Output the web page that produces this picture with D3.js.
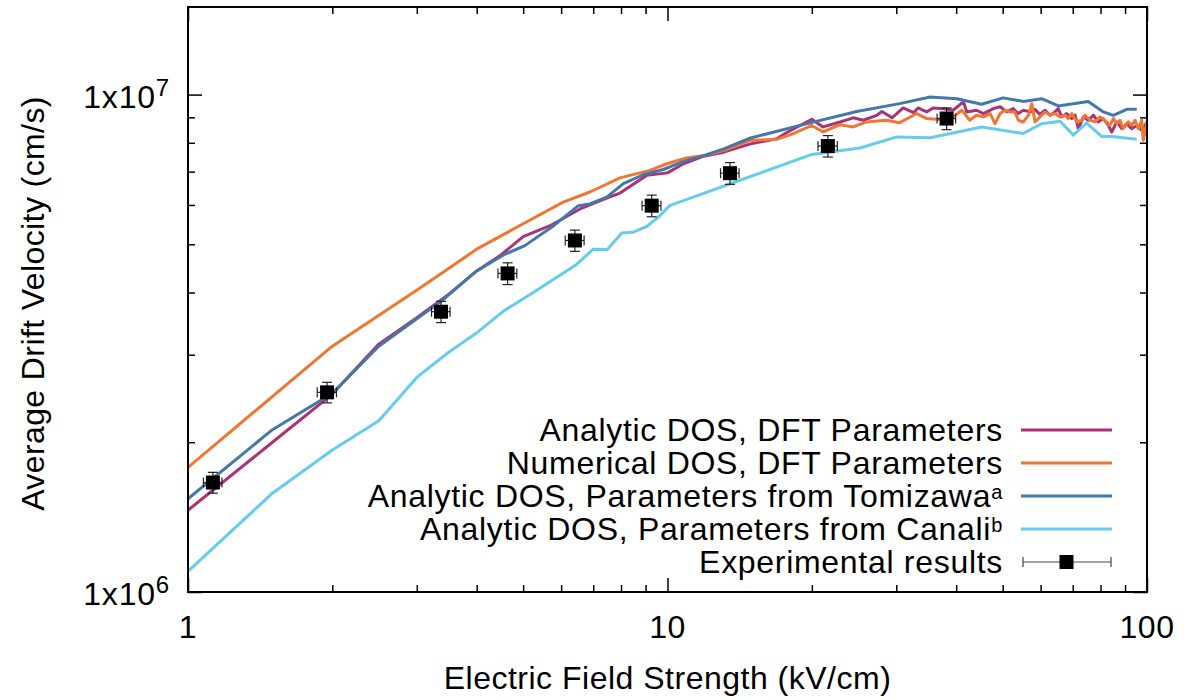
<!DOCTYPE html>
<html><head><meta charset="utf-8">
<script src="https://cdn.jsdelivr.net/npm/d3@7"></script>
<style>
html,body{margin:0;padding:0;background:#fff;}
svg{display:block;font-family:"Liberation Sans",Arial,Helvetica,sans-serif;}
</style></head><body>
<svg id="chart" width="1191" height="700"></svg>
<script>
// Average electron drift velocity vs. electric field.
// Each curve: [field (kV/cm), velocity (10^6 cm/s)]
const analyticDFT = [[1,1.46],[1.5,2.0],[2,2.5],[2.5,3.15],[3,3.56],[3.5,3.97],[4,4.42],[4.47,4.74],[5.0,5.18],[5.69,5.45],[6.57,5.89],[7.47,6.19],[7.96,6.34],[9.05,6.88],[10.0,6.96],[10.8,7.26],[11.9,7.52],[13.1,7.66],[14.9,7.96],[16.9,8.15],[17.7,8.38],[20.0,8.92],[21.1,8.61],[22.9,8.81],[24.4,8.98],[25.6,8.88],[27.3,9.08],[28.0,9.25],[29.4,8.98],[31.0,9.40],[32.6,9.20],[33.3,9.40],[34.7,9.23],[35.8,9.40],[37.6,9.37],[39.4,9.30],[41.4,9.67],[42.1,9.23],[44.1,9.30],[45.6,9.16],[47.8,9.37],[49.4,9.45],[51.0,9.23],[52.6,9.37],[53.9,9.16],[55.2,9.30],[57.0,9.23],[58.4,9.34],[59.8,9.12],[61.3,9.30],[62.8,9.09],[64.3,9.23],[65.3,9.37],[66.4,9.02],[68.0,9.16],[69.7,8.95],[70.8,9.09],[71.9,8.54],[73.7,9.02],[75.4,8.88],[77.3,9.09],[79.1,8.81],[81.1,8.95],[83.1,8.67],[84.4,8.41],[86.5,8.81],[88.6,8.54],[90.7,8.74],[92.9,8.54],[95.2,8.67],[97.5,8.47],[100,8.81]];

const numericalDFT = [[1,1.78],[2,3.12],[3.02,4.06],[3.52,4.49],[4.0,4.89],[5.0,5.50],[6.06,6.08],[6.89,6.37],[7.96,6.80],[9.19,7.04],[9.96,7.26],[10.96,7.46],[11.9,7.54],[13.1,7.72],[14.9,8.09],[16.9,8.13],[18.3,8.35],[20.0,8.67],[21.1,8.41],[22.9,8.70],[24.4,8.61],[26.0,8.81],[28.6,8.88],[30.5,8.78],[33.1,9.16],[34.7,8.95],[37.0,8.91],[39.4,9.02],[41.1,9.30],[42.7,8.88],[44.1,9.09],[45.6,9.02],[47.1,9.16],[48.2,8.74],[49.4,9.16],[50.6,9.30],[51.8,9.23],[53.0,9.23],[53.9,8.88],[55.2,8.81],[56.6,9.09],[57.5,9.59],[58.4,8.81],[59.8,9.02],[61.3,9.23],[62.8,9.09],[64.3,9.16],[65.9,9.02],[67.5,9.09],[68.5,8.95],[69.7,9.16],[71.4,8.81],[73.1,8.88],[74.3,9.09],[76.1,8.88],[77.9,8.81],[79.8,9.02],[81.7,8.88],[83.7,8.67],[85.1,8.95],[86.5,8.74],[87.8,8.88],[89.2,8.54],[91.4,8.81],[92.9,8.67],[94.4,8.88],[95.9,8.54],[97.5,8.88],[98.2,8.09],[100,8.81]];

const tomizawa = [[1,1.54],[1.5,2.12],[2,2.51],[2.5,3.12],[3.02,3.56],[3.38,3.85],[4.0,4.42],[4.55,4.76],[5.04,4.97],[5.73,5.41],[6.52,5.98],[6.89,6.03],[7.47,6.22],[8.09,6.62],[8.9,6.90],[9.8,7.07],[10.8,7.34],[11.9,7.54],[13.1,7.78],[14.9,8.18],[18.9,8.67],[24.8,9.25],[30.5,9.59],[35.3,9.89],[40.1,9.81],[45.2,9.56],[50.1,9.85],[55.2,9.69],[60.3,9.81],[65.3,9.49],[75.4,9.69],[81.1,9.23],[85.1,9.08],[90.7,9.34],[95.2,9.34]];

const canali = [[1,1.10],[1.5,1.58],[2.0,1.93],[2.5,2.21],[3.0,2.70],[3.49,3.03],[3.97,3.30],[4.55,3.67],[5.25,4.00],[6.47,4.56],[7.0,4.89],[7.49,4.88],[8.03,5.27],[8.49,5.29],[9.05,5.43],[9.57,5.67],[10.1,5.98],[20.0,7.58],[25.2,7.81],[30.1,8.22],[35.3,8.19],[45.2,8.61],[55.2,8.35],[60.3,8.74],[65.9,8.84],[70.2,8.29],[74.8,8.77],[80.4,8.24],[84.4,8.24],[95.2,8.13]];

// Experimental results with symmetric error bars
const expField    = [1.127, 1.95, 3.37, 4.64, 6.41, 9.27, 13.5, 21.6, 38.2];
const expFieldErr = [0.05, 0.09, 0.15, 0.21, 0.29, 0.42, 0.6, 1.0, 1.7];
const expVel      = [1.66, 2.52, 3.66, 4.37, 5.09, 5.98, 6.95, 7.88, 8.95];
const expVelErr   = [0.08, 0.12, 0.18, 0.22, 0.25, 0.30, 0.35, 0.39, 0.45];

const curveLabels = ["Analytic DOS, DFT Parameters", "Numerical DOS, DFT Parameters", "Analytic DOS, Parameters from Tomizawa", "Analytic DOS, Parameters from Canali"];
const curveSup    = ["", "", "a", "b"];
const curveColors = ["#AA3377", "#EE7733", "#4477AA", "#66CCEE"];
const expLabel = "Experimental results";

const xMajor = [1, 10, 100];
const xMinor = [2,3,4,5,6,7,8,9,20,30,40,50,60,70,80,90];
const yMajor = [1, 10];
const yMajorExp = ["6", "7"];
const yMinor = [2,3,4,5,6,7,8,9];

const xTitle = "Electric Field Strength (kV/cm)";
const yTitle = "Average Drift Velocity (cm/s)";

const L = 188, R = 1147, T = 7, B = 592;
const FS = 32, SUP = 20;

const svg = d3.select("#chart");
const x = d3.scaleLog().domain([1, 100]).range([L, R]);
const y = d3.scaleLog().domain([1, 15]).range([B, T]);

// Ticks on all four sides, pointing inward
function tickAxis(axisFn, scale, vals, size, tx, ty) {
  const g = svg.append("g").attr("transform", `translate(${tx},${ty})`)
    .call(axisFn(scale).tickValues(vals).tickSizeInner(size).tickSizeOuter(0).tickFormat(""));
  g.select(".domain").remove();
  g.selectAll(".tick line").attr("stroke", "#000").attr("stroke-width", 1.5);
  return g;
}
tickAxis(d3.axisBottom, x, xMajor, -14, 0, B);
tickAxis(d3.axisBottom, x, xMinor, -7, 0, B);
tickAxis(d3.axisTop, x, xMajor, -14, 0, T);
tickAxis(d3.axisTop, x, xMinor, -7, 0, T);
tickAxis(d3.axisLeft, y, yMajor, -14, L, 0);
tickAxis(d3.axisLeft, y, yMinor, -7, L, 0);
tickAxis(d3.axisRight, y, yMajor, -14, R, 0);
tickAxis(d3.axisRight, y, yMinor, -7, R, 0);

// Tick labels
svg.append("g").selectAll("text").data(xMajor).join("text")
  .attr("x", d => x(d)).attr("y", B + 46)
  .attr("text-anchor", "middle").attr("font-size", FS).attr("letter-spacing", 0.5).text(d => d);

const yl = svg.append("g").selectAll("text").data(yMajor).join("text")
  .attr("x", 170).attr("y", d => y(d) + 13)
  .attr("text-anchor", "end").attr("font-size", FS).attr("letter-spacing", 0.8);
yl.append("tspan").text("1x10");
yl.append("tspan").attr("font-size", 24).attr("dy", -12).text((d, i) => yMajorExp[i]);

// Axis titles
svg.append("text").attr("x", (L + R) / 2).attr("y", 689)
  .attr("text-anchor", "middle").attr("font-size", FS).attr("letter-spacing", 0.5).text(xTitle);
svg.append("text").attr("transform", `translate(44,${(T + B) / 2 + 4}) rotate(-90)`)
  .attr("text-anchor", "middle").attr("font-size", FS).attr("letter-spacing", 0.4).text(yTitle);

// Curves
const line = d3.line().x(d => x(d[0])).y(d => y(d[1]));
svg.append("clipPath").attr("id", "plotclip")
  .append("rect").attr("x", L).attr("y", T).attr("width", R - L).attr("height", B - T);
const plot = svg.append("g").attr("clip-path", "url(#plotclip)");
[analyticDFT, numericalDFT, tomizawa, canali].forEach((s, i) => {
  plot.append("path").datum(s).attr("d", line)
    .attr("fill", "none").attr("stroke", curveColors[i]).attr("stroke-width", 3)
    .attr("stroke-linejoin", "round");
});

// Experimental points
const expData = expField.map((f, i) => ({f, fe: expFieldErr[i], v: expVel[i], ve: expVelErr[i]}));
const eg = plot.append("g").selectAll("g").data(expData).join("g");
const barColor = "#222", cap = 5, sq = 14;
eg.append("line").attr("x1", d => x(d.f - d.fe)).attr("x2", d => x(d.f + d.fe))
  .attr("y1", d => y(d.v)).attr("y2", d => y(d.v)).attr("stroke", barColor).attr("stroke-width", 1.2);
eg.append("line").attr("x1", d => x(d.f)).attr("x2", d => x(d.f))
  .attr("y1", d => y(d.v - d.ve)).attr("y2", d => y(d.v + d.ve)).attr("stroke", barColor).attr("stroke-width", 1.2);
eg.append("line").attr("x1", d => x(d.f - d.fe)).attr("x2", d => x(d.f - d.fe))
  .attr("y1", d => y(d.v) - cap).attr("y2", d => y(d.v) + cap).attr("stroke", barColor).attr("stroke-width", 1.2);
eg.append("line").attr("x1", d => x(d.f + d.fe)).attr("x2", d => x(d.f + d.fe))
  .attr("y1", d => y(d.v) - cap).attr("y2", d => y(d.v) + cap).attr("stroke", barColor).attr("stroke-width", 1.2);
eg.append("line").attr("x1", d => x(d.f) - cap).attr("x2", d => x(d.f) + cap)
  .attr("y1", d => y(d.v - d.ve)).attr("y2", d => y(d.v - d.ve)).attr("stroke", barColor).attr("stroke-width", 1.2);
eg.append("line").attr("x1", d => x(d.f) - cap).attr("x2", d => x(d.f) + cap)
  .attr("y1", d => y(d.v + d.ve)).attr("y2", d => y(d.v + d.ve)).attr("stroke", barColor).attr("stroke-width", 1.2);
eg.append("rect").attr("x", d => x(d.f) - sq / 2).attr("y", d => y(d.v) - sq / 2)
  .attr("width", sq).attr("height", sq).attr("fill", "#000");

// Legend
const legY0 = 430, legDY = 33, legTextX = 1003, legX1 = 1021, legX2 = 1112;
curveLabels.forEach((lab, i) => {
  const yy = legY0 + i * legDY;
  const t = svg.append("text").attr("x", legTextX).attr("y", yy + 11)
    .attr("text-anchor", "end").attr("font-size", FS).attr("letter-spacing", 0.7);
  t.append("tspan").text(lab);
  if (curveSup[i]) t.append("tspan").attr("font-size", SUP).attr("dy", -8).text(curveSup[i]);
  svg.append("line").attr("x1", legX1).attr("x2", legX2).attr("y1", yy).attr("y2", yy)
    .attr("stroke", curveColors[i]).attr("stroke-width", 3);
});
{
  const yy = legY0 + 4 * legDY, cx = (legX1 + legX2) / 2;
  svg.append("text").attr("x", legTextX).attr("y", yy + 11)
    .attr("text-anchor", "end").attr("font-size", FS).attr("letter-spacing", 0.7).text(expLabel);
  const lg = svg.append("g").attr("stroke", "#444").attr("stroke-width", 1.2);
  lg.append("line").attr("x1", legX1 + 2).attr("x2", legX2 - 1).attr("y1", yy).attr("y2", yy);
  lg.append("line").attr("x1", legX1 + 2).attr("x2", legX1 + 2).attr("y1", yy - cap).attr("y2", yy + cap);
  lg.append("line").attr("x1", legX2 - 1).attr("x2", legX2 - 1).attr("y1", yy - cap).attr("y2", yy + cap);
  svg.append("rect").attr("x", cx - sq / 2).attr("y", yy - sq / 2).attr("width", sq).attr("height", sq).attr("fill", "#000");
}

// Frame
svg.append("rect").attr("x", L).attr("y", T).attr("width", R - L).attr("height", B - T)
  .attr("fill", "none").attr("stroke", "#000").attr("stroke-width", 2);
</script>
</body></html>
